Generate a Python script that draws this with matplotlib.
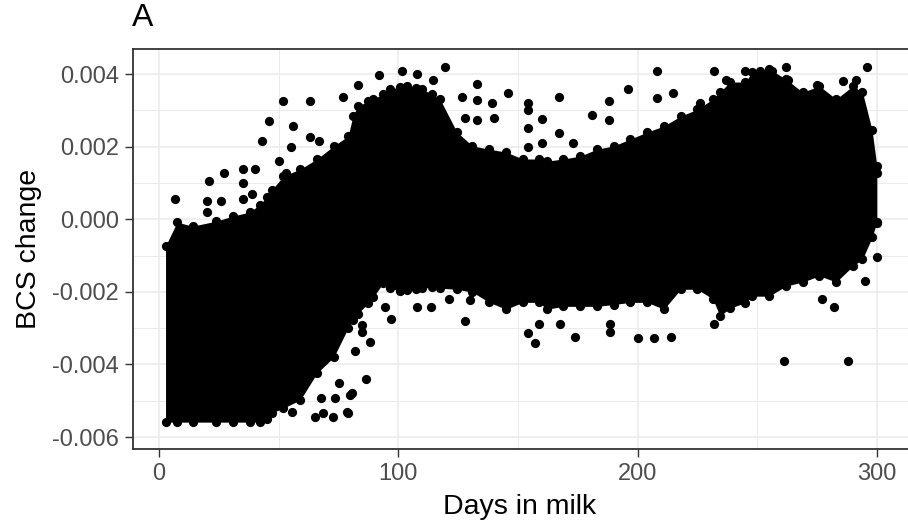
import numpy as np
import matplotlib
matplotlib.use('Agg')
import matplotlib.pyplot as plt
from matplotlib.ticker import MultipleLocator

plt.rcParams['font.family'] = ['Liberation Sans', 'DejaVu Sans']

# Outline of the solid point cloud (days in milk, upper / lower BCS change)
env_day = [2.7, 7.5, 14, 24, 31, 38, 42, 45, 47, 52, 59, 66, 73, 79, 81, 83, 87.5,
           89.5, 93.6, 96.5, 100.7, 103.6, 107.5, 110, 114, 117.4, 124.5, 131, 138,
           145, 152, 159, 162, 169, 176, 183, 190, 197, 204, 211, 218, 225, 231.5,
           234.4, 238.6, 245, 248, 255, 262, 269, 276, 283, 290, 294, 298, 300]
env_upper = [-0.00074, -0.00008, -0.00019, -0.00005, 0.00009, 0.00020, 0.00040,
             0.00061, 0.00080, 0.00119, 0.00138, 0.00166, 0.00202, 0.00229, 0.00284,
             0.00312, 0.00325, 0.00331, 0.00345, 0.00358, 0.00365, 0.00367, 0.00362,
             0.00358, 0.00345, 0.00331, 0.00240, 0.00202, 0.00193, 0.00185, 0.00166,
             0.00166, 0.00160, 0.00166, 0.00174, 0.00193, 0.00202, 0.00221, 0.00240,
             0.00257, 0.00284, 0.00303, 0.00331, 0.00350, 0.00378, 0.00378, 0.00406,
             0.00414, 0.00386, 0.00350, 0.00367, 0.00331, 0.00367, 0.00350, 0.00246,
             0.00147]
env_lower = [-0.00559, -0.00559, -0.00559, -0.00559, -0.00559, -0.00559, -0.00559,
             -0.00550, -0.00534, -0.00520, -0.00498, -0.00424, -0.00380, -0.00300,
             -0.00278, -0.00260, -0.00231, -0.00215, -0.00176, -0.00190, -0.00198,
             -0.00195, -0.00193, -0.00190, -0.00187, -0.00190, -0.00193, -0.00201,
             -0.00229, -0.00248, -0.00229, -0.00229, -0.00248, -0.00240, -0.00240,
             -0.00240, -0.00235, -0.00229, -0.00229, -0.00248, -0.00193, -0.00193,
             -0.00220, -0.00267, -0.00245, -0.00230, -0.00212, -0.00212, -0.00184,
             -0.00173, -0.00156, -0.00173, -0.00129, -0.00110, -0.00050, -0.00008]

# Isolated points outside the cloud
out_day = [6.7, 21, 20, 20, 26, 27, 35, 35, 35, 40, 39, 43, 46, 52, 56, 63, 63, 67,
           55, 50, 53, 77, 83, 92, 101.5, 108, 119.5, 114.5,
           133, 126.5, 133, 139, 146, 128, 140, 133, 154, 154, 160, 154, 154, 160,
           167, 167, 173, 181, 188, 188, 196, 208, 208, 215, 226, 232, 237, 245,
           251, 256, 262, 263, 275, 286, 291.5, 296, 300, 300, 300,
           94.4, 97, 108, 113.6, 121, 85, 85, 88, 82, 86.5, 75, 80, 73.5, 67.7, 79,
           65, 72.5, 68.5, 55.6, 78.5, 80.6,
           128, 130, 154, 157, 159, 174, 167.5, 188.5, 188.5, 200, 207, 214, 232,
           261, 288, 282, 277, 295]
out_val = [0.00056, 0.00105, 0.0005, 0.0002, 0.0005, 0.00127, 0.00138, 0.0010,
           0.00056, 0.00138, 0.00069, 0.00215, 0.0027, 0.00326, 0.00257, 0.00326,
           0.00226, 0.00215, 0.0020, 0.0016, 0.00127, 0.00337, 0.0037, 0.00397,
           0.00408, 0.0040, 0.0042, 0.00383,
           0.00372, 0.00337, 0.00328, 0.0032, 0.00348, 0.00279, 0.00279, 0.00273,
           0.0032, 0.0030, 0.00276, 0.0025, 0.0020, 0.0021, 0.00337, 0.00237, 0.0021,
           0.00287, 0.00326, 0.00273, 0.0036, 0.00408, 0.00333, 0.00348, 0.0032,
           0.00408, 0.00383, 0.00408, 0.00408, 0.00408, 0.0042, 0.00383, 0.0037,
           0.00381, 0.00383, 0.0042, -0.00104, -0.0001, 0.00127,
           -0.00241, -0.00275, -0.00241, -0.00241, -0.0022, -0.00292, -0.0031,
           -0.00338, -0.00363, -0.0044, -0.0045, -0.00484, -0.00492, -0.00492,
           -0.00534, -0.00545, -0.00545, -0.00534, -0.0053, -0.0053, -0.0048,
           -0.0028, -0.00223, -0.00313, -0.0034, -0.00288, -0.00324, -0.00288,
           -0.0029, -0.0031, -0.00327, -0.00327, -0.00324, -0.00288, -0.0039,
           -0.0039, -0.00241, -0.0022, -0.0017]

x_ticks = [0, 100, 200, 300]
y_ticks = [-0.006, -0.004, -0.002, 0.000, 0.002, 0.004]

fig = plt.figure(figsize=(9.08, 5.29), dpi=100)
ax = fig.add_axes([133 / 908, 1 - 449 / 529, (912 - 133) / 908, 400 / 529])

ax.fill_between(env_day, env_lower, env_upper, color='black', lw=0, zorder=3)
# dots along the cloud outline give it the bumpy edge of overlapping points
ax.scatter(env_day, env_upper, s=44, color='black', lw=0, zorder=3)
ax.scatter(env_day, env_lower, s=44, color='black', lw=0, zorder=3)
ax.scatter(out_day, out_val, s=44, color='black', lw=0, zorder=3)

ax.set_xlim(-10.9, 314.7)
ax.set_ylim(-0.00633, 0.00469)
ax.set_xticks(x_ticks)
ax.set_yticks(y_ticks)
ax.set_yticklabels([f'{v:.3f}' for v in y_ticks])
ax.xaxis.set_minor_locator(MultipleLocator(50))
ax.yaxis.set_minor_locator(MultipleLocator(0.001))

ax.grid(True, which='major', color='#ebebeb', lw=1.1, zorder=0)
ax.grid(True, which='minor', color='#ebebeb', lw=0.7, zorder=0)
ax.set_axisbelow(True)

for sp in ax.spines.values():
    sp.set_color('#333333')
    sp.set_linewidth(1.3)

ax.tick_params(which='major', length=6, width=1, color='#333333',
               labelsize=17, labelcolor='#4d4d4d', pad=4)
ax.tick_params(which='minor', length=0)

fig.text(520 / 908, 1 - 507 / 529, 'Days in milk', fontsize=20.5, ha='center', va='center')
fig.text(29 / 908, 1 - 249 / 529, 'BCS change', fontsize=20.5, ha='center', va='center',
         rotation=90)
fig.text(132 / 908, 1 - 18 / 529, 'A', fontsize=23, ha='left', va='center')

plt.savefig('out.png', dpi=100)
